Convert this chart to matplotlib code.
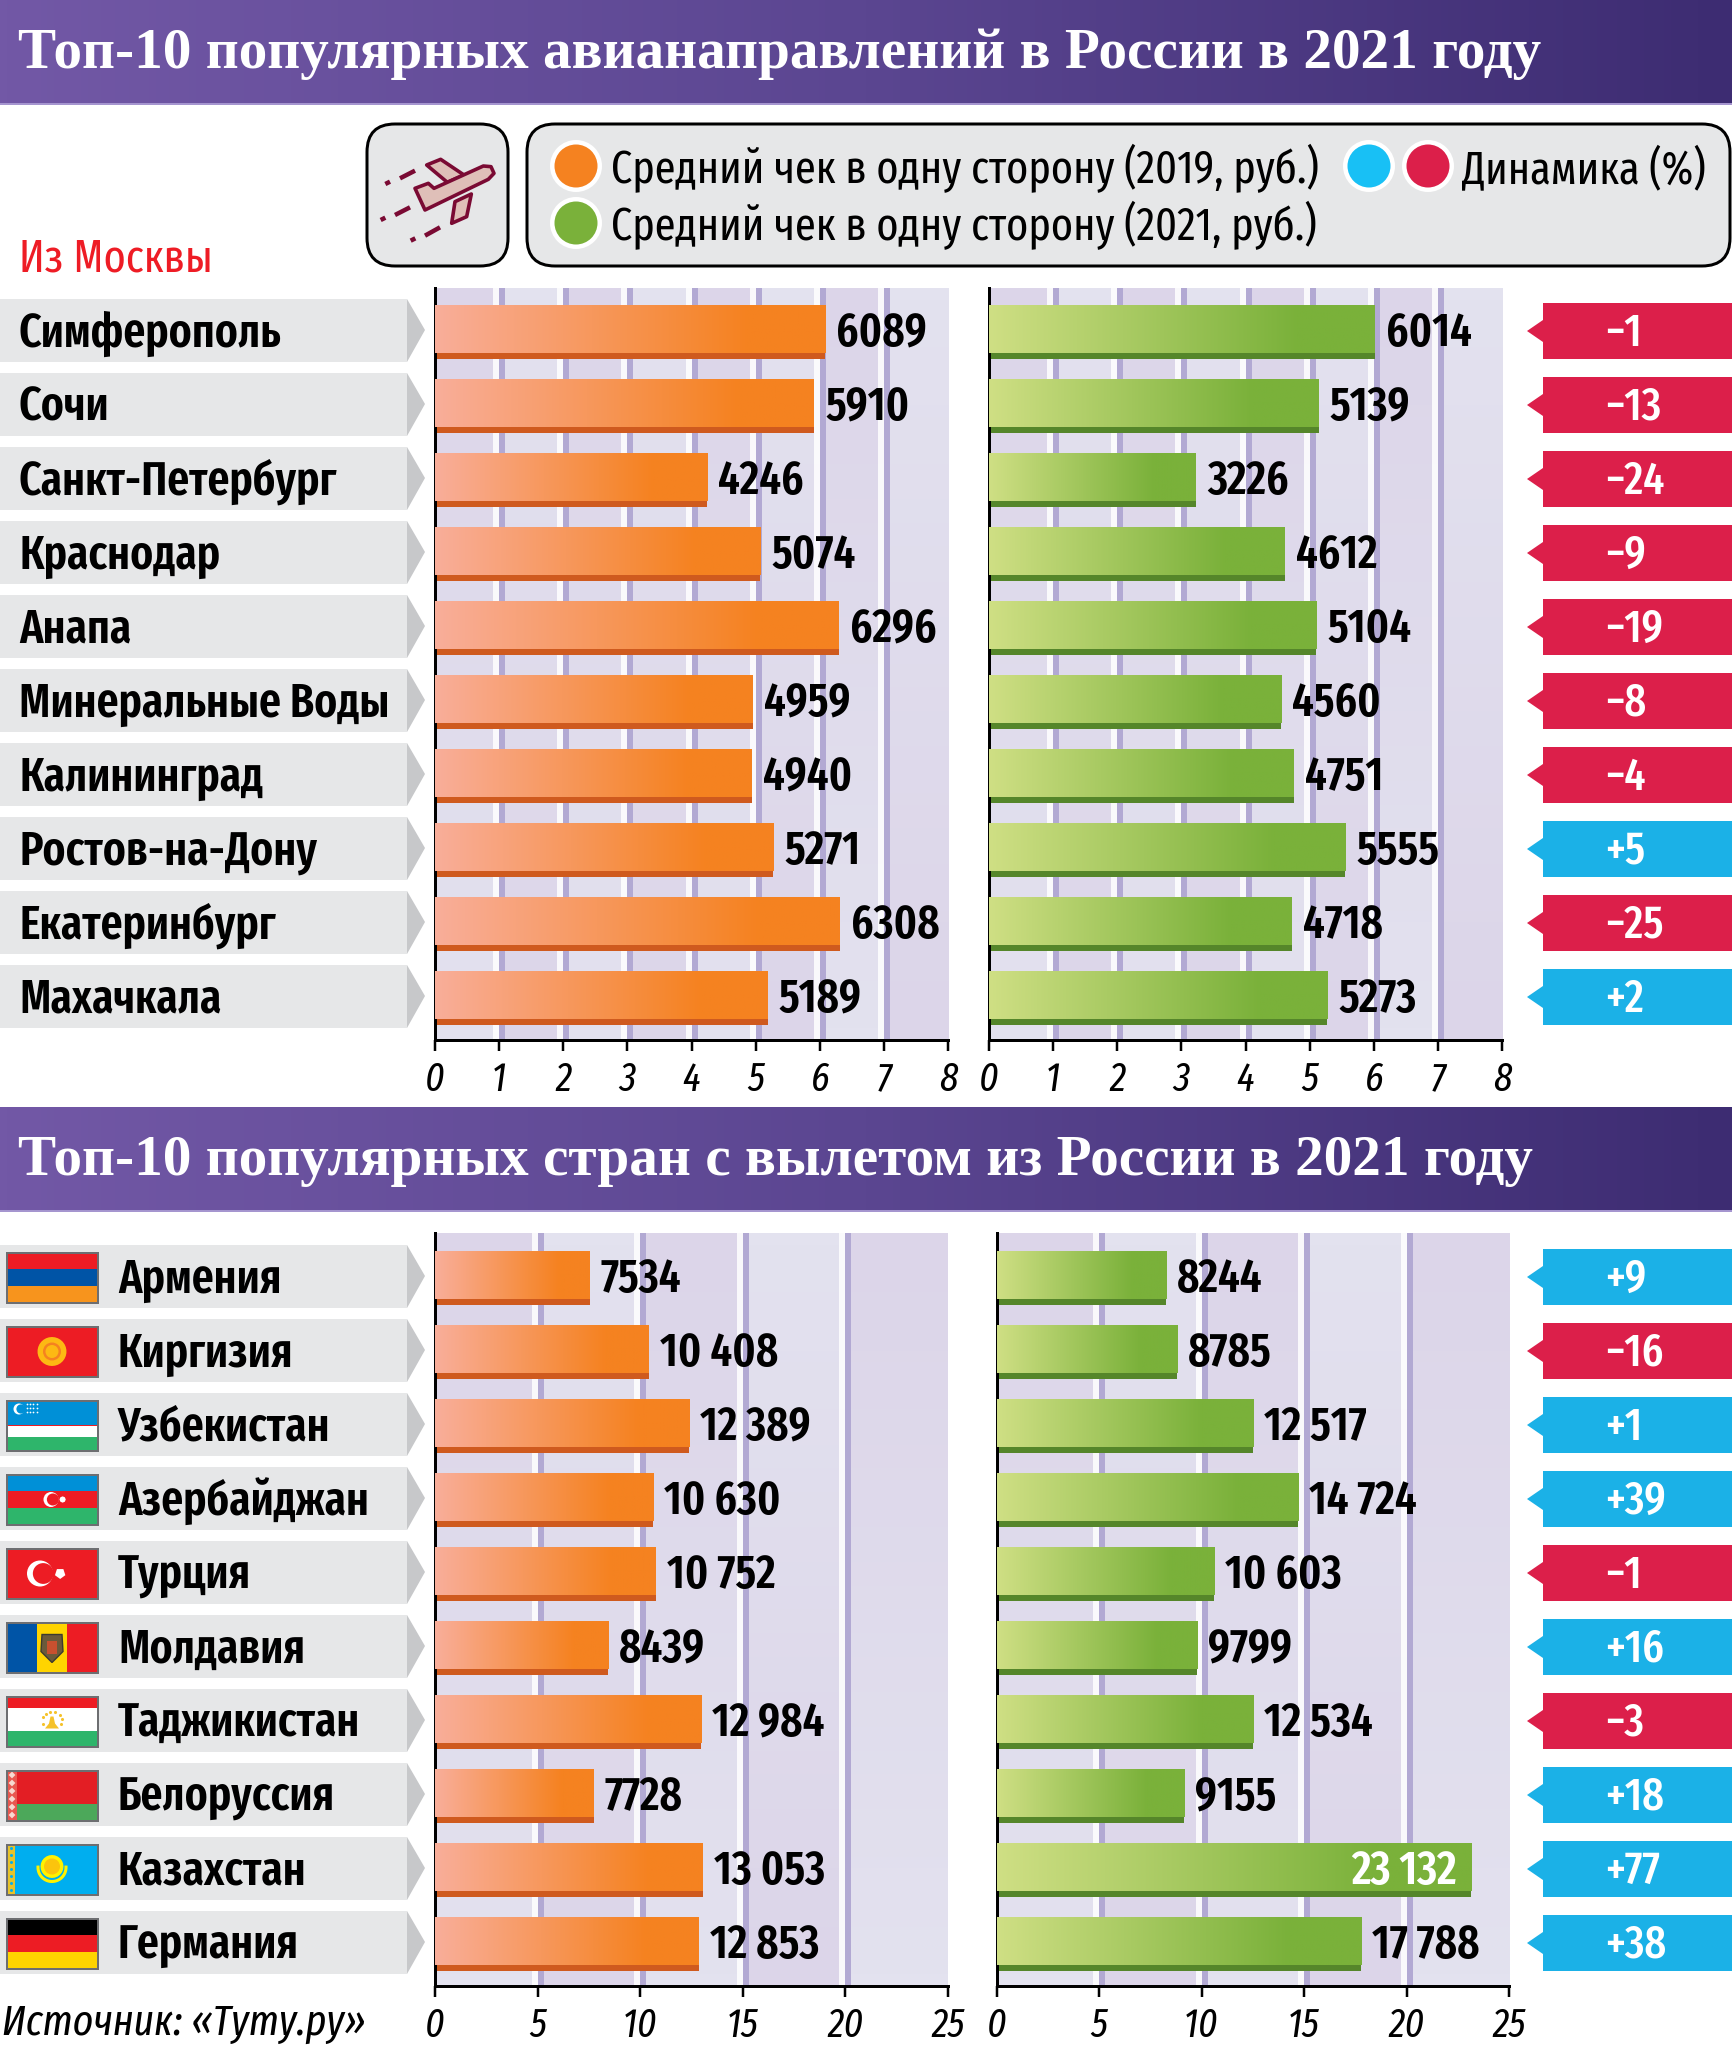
import numpy as np
import matplotlib
matplotlib.use('Agg')
import matplotlib.pyplot as plt
from matplotlib.colors import LinearSegmentedColormap
from matplotlib.patches import Rectangle, Polygon, Circle, FancyBboxPatch, RegularPolygon

# Data
cities = ['Симферополь', 'Сочи', 'Санкт-Петербург', 'Краснодар', 'Анапа',
          'Минеральные Воды', 'Калининград', 'Ростов-на-Дону', 'Екатеринбург', 'Махачкала']
city_2019 = [6089, 5910, 4246, 5074, 6296, 4959, 4940, 5271, 6308, 5189]
city_2021 = [6014, 5139, 3226, 4612, 5104, 4560, 4751, 5555, 4718, 5273]
city_change = [-1, -13, -24, -9, -19, -8, -4, 5, -25, 2]
city_ticks = [0, 1, 2, 3, 4, 5, 6, 7, 8]

countries = ['Армения', 'Киргизия', 'Узбекистан', 'Азербайджан', 'Турция',
             'Молдавия', 'Таджикистан', 'Белоруссия', 'Казахстан', 'Германия']
country_2019 = [7534, 10408, 12389, 10630, 10752, 8439, 12984, 7728, 13053, 12853]
country_2021 = [8244, 8785, 12517, 14724, 10603, 9799, 12534, 9155, 23132, 17788]
country_change = [9, -16, 1, 39, -1, 16, -3, 18, 77, 38]
country_ticks = [0, 5, 10, 15, 20, 25]

title_top = 'Топ-10 популярных авианаправлений в России в 2021 году'
title_bottom = 'Топ-10 популярных стран с вылетом из России в 2021 году'
legend_2019 = 'Средний чек в одну сторону (2019, руб.)'
legend_2021 = 'Средний чек в одну сторону (2021, руб.)'
legend_change = 'Динамика (%)'
source = 'Источник: «Туту.ру»'

W, H = 1732, 2047
# Narrow face is closest to the original; Roboto is the fallback if it is absent
NARROW = ['Fira Sans Extra Condensed', 'Roboto', 'DejaVu Sans']
SERIF = ['Liberation Serif', 'DejaVu Serif']
ORANGE, GREEN, BLUE, RED = '#f58220', '#7ab13a', '#1bb1e7', '#dc1f4a'
GREY, GREY_D = '#e6e7e8', '#c7c8ca'
PLANE = '#7a0a33'
px = 72 / 100  # pixels to points

plt.rcParams['font.family'] = NARROW
fig = plt.figure(figsize=(W / 100, H / 100), dpi=100, facecolor='white')

# Page layer in pixel coordinates
bg = fig.add_axes([0, 0, 1, 1])
bg.set_xlim(0, W)
bg.set_ylim(H, 0)
bg.axis('off')


def header(y0, y1, text):
    grad = np.linspace(0, 1, 256).reshape(1, -1)
    cmap = LinearSegmentedColormap.from_list('h', ['#7258a6', '#5b4691', '#3d2c72'])
    bg.imshow(grad, cmap=cmap, extent=(0, W, y1, y0), aspect='auto', zorder=1)
    bg.add_patch(Rectangle((0, y1 - 2), W, 2, color='#a595cf', lw=0, zorder=2))
    bg.text(18, y0 + 68, text, color='white', family=SERIF, fontsize=41.2,
            fontweight='bold', va='baseline', ha='left', zorder=3)


header(0, 105, title_top)
header(1107, 1212, title_bottom)
bg.set_xlim(0, W)
bg.set_ylim(H, 0)

# Legend
for x0, x1 in [(367, 508), (527, 1730)]:
    bg.add_patch(FancyBboxPatch((x0 + 28, 124 + 28), x1 - x0 - 56, 142 - 56,
                                boxstyle='round,pad=28,rounding_size=28',
                                fc=GREY, ec='black', lw=3 * px, zorder=2))
for x, y, c in [(576, 166, ORANGE), (576, 223, GREEN), (1369, 166, '#18c0f5'), (1428, 166, RED)]:
    bg.add_patch(Circle((x, y), 26, fc='white', ec='none', zorder=3))
    bg.add_patch(Circle((x, y), 21.5, fc=c, ec='none', zorder=4))
bg.text(611, 183, legend_2019, fontsize=33, va='baseline', zorder=4)
bg.text(611, 240, legend_2021, fontsize=33, va='baseline', zorder=4)
bg.text(1462, 183, legend_change, fontsize=33, va='baseline', zorder=4)
bg.text(19, 272, 'Из Москвы', color='#ee1c25', fontsize=33, va='baseline', zorder=4)

# Plane icon
ox, oy = 360, 120


def pl(points):
    return [(ox + a / 3, oy + b / 3) for a, b in points]


for pts in ([(200, 135), (242, 118), (312, 165), (262, 187)],
            [(285, 245), (334, 222), (320, 290), (275, 310)],
            [(165, 205), (205, 190), (222, 205), (370, 138), (393, 140),
             (402, 160), (385, 178), (195, 270)]):
    bg.add_patch(Polygon(pl(pts), closed=True, fc='#dfbfb8', ec=PLANE, lw=3.6 * px,
                         joinstyle='round', zorder=3))
for a, b in [((120, 175), (165, 152)), ((105, 285), (150, 262)), ((195, 347), (240, 322)),
             ((76, 192), (90, 185)), ((62, 300), (76, 293)), ((152, 362), (166, 355))]:
    (xa, ya), (xb, yb) = pl([a, b])
    bg.plot([xa, xb], [ya, yb], color=PLANE, lw=4.5 * px, solid_capstyle='butt', zorder=3)


def flag(i, name, y):
    x0, x1, y0, y1 = 7, 97, y - 26, y + 23
    w, h = x1 - x0, y1 - y0
    R, B, O, G, LB = '#ed1c24', '#0054a6', '#f7941d', '#2eb56b', '#0090d7'
    stripes = {'Армения': [(R, 1), (B, 1), (O, 1)],
               'Киргизия': [(R, 1)],
               'Узбекистан': [(LB, 30), (R, 1), ('white', 14), (R, 1), (G, 16)],
               'Азербайджан': [(LB, 1), (R, 1), (G, 1)],
               'Турция': [(R, 1)],
               'Молдавия': [(R, 1)],
               'Таджикистан': [(R, 2), ('white', 4), (G, 2.6)],
               'Белоруссия': [('#e31e24', 2), ('#4ca85a', 1)],
               'Казахстан': [('#00aeef', 1)],
               'Германия': [('black', 1), (R, 1), ('#ffd400', 1)]}[name]
    total = sum(s[1] for s in stripes)
    yy = y0
    for c, part in stripes:
        hh = h * part / total
        bg.add_patch(Rectangle((x0, yy), w, hh, fc=c, ec='none', zorder=3))
        yy += hh
    cx, cy = (x0 + x1) / 2, (y0 + y1) / 2
    if name == 'Молдавия':
        bg.add_patch(Rectangle((x0, y0), w / 3, h, fc=B, ec='none', zorder=3))
        bg.add_patch(Rectangle((x0 + w / 3, y0), w / 3, h, fc='#ffd400', ec='none', zorder=3))
        bg.add_patch(Polygon([(cx - 10, cy - 13), (cx + 10, cy - 13), (cx + 11, cy + 4), (cx, cy + 15), (cx - 11, cy + 4)],
                             fc='#6b5a3a', ec='#3c3a30', lw=1, zorder=4))
        bg.add_patch(Rectangle((cx - 5, cy - 7), 10, 13, fc='#c8502f', ec='none', zorder=5))
    elif name == 'Киргизия':
        bg.add_patch(RegularPolygon((cx, cy), 30, radius=14.5, fc='#fdb913', ec='none', zorder=4))
        bg.add_patch(Circle((cx, cy), 9, fc='#f58220', ec='none', zorder=5))
        bg.add_patch(Circle((cx, cy), 6.5, fc='#fdb913', ec='none', zorder=6))
    elif name in ('Турция', 'Азербайджан'):
        r = 13 if name == 'Турция' else 7.5
        back = R
        sx = cx - 12 if name == 'Турция' else cx - 1
        bg.add_patch(Circle((sx, cy), r, fc='white', ec='none', zorder=4))
        bg.add_patch(Circle((sx + r * .25, cy), r * .8, fc=back, ec='none', zorder=5))
        bg.add_patch(RegularPolygon((sx + r * 1.55, cy), 5 if name == 'Турция' else 8, radius=r * .42,
                                    fc='white', ec='none', zorder=6))
    elif name == 'Узбекистан':
        bg.add_patch(Circle((x0 + 12, y0 + 8), 5.5, fc='white', ec='none', zorder=4))
        bg.add_patch(Circle((x0 + 14, y0 + 8), 4.6, fc=LB, ec='none', zorder=5))
        dx = [x0 + 20 + 3.2 * k for k in range(4)]
        bg.scatter(dx * 3, [y0 + 3] * 4 + [y0 + 7] * 4 + [y0 + 11] * 4, s=1.6, c='white', lw=0, zorder=5)
    elif name == 'Таджикистан':
        bg.add_patch(Polygon([(cx - 7, cy + 7), (cx + 7, cy + 7), (cx + 3, cy + 2), (cx + 1.5, cy - 5), (cx - 1.5, cy - 5), (cx - 3, cy + 2)],
                             fc='#f5c22b', ec='none', zorder=4))
        ang = np.deg2rad([200, 230, 260, 290, 320, 350, 20, 160])
        bg.scatter(cx + 10 * np.cos(ang), cy - 1 + 9 * np.sin(ang), s=5, c='#f5c22b', lw=0, zorder=4)
    elif name == 'Белоруссия':
        bg.add_patch(Rectangle((x0, y0), 10, h, fc='#e8574f', ec='none', zorder=4))
        for k in range(6):
            bg.add_patch(RegularPolygon((x0 + 5, y0 + 4 + k * 8), 4, radius=3.4, fc='#f6d9d0', ec='none', zorder=5))
    elif name == 'Казахстан':
        bg.add_patch(Rectangle((x0 + 1, y0), 7, h, fc='#e6c32a', ec='none', zorder=4))
        for k in range(7):
            bg.add_patch(Circle((x0 + 4.5, y0 + 3.5 + k * 7), 1.5, fc='#00aeef', ec='none', zorder=5))
        bg.add_patch(RegularPolygon((cx, cy - 3), 24, radius=11.5, fc='#fff200', ec='none', zorder=4))
        bg.add_patch(Circle((cx, cy - 3), 8, fc='#fbc40d', ec='none', zorder=5))
        bg.plot(cx + 14 * np.sin(np.linspace(-1.6, 1.6, 30)), cy + 14 * np.cos(np.linspace(-1.6, 1.6, 30)) - 2,
                color='#fff200', lw=2.2, zorder=4)
    bg.add_patch(Rectangle((x0 - .5, y0 - .5), w + 1, h + 1, fc='none', ec='#6d6e71', lw=2 * px, zorder=8))


def rows(names, changes, first, flags):
    for i, name in enumerate(names):
        y = first + i * 74
        bg.add_patch(Rectangle((0, y - 33), 407, 63, fc=GREY, ec='none', zorder=1))
        bg.add_patch(Polygon([(407, y - 33), (425, y - 2), (407, y + 30)], fc=GREY_D, ec='none', zorder=1))
        tx = 118 if flags else 19
        bg.text(tx, y + 14.5, name, fontsize=34, fontweight=600, va='baseline', zorder=4)
        if flags:
            flag(i, name, y + 1)
        c = BLUE if changes[i] > 0 else RED
        bg.add_patch(Polygon([(1527, y - 1), (1543, y - 12), (1543, y - 29), (W, y - 29), (W, y + 27),
                              (1543, y + 27), (1543, y + 10)], fc=c, ec='none', zorder=2))
        label = f'+{changes[i]}' if changes[i] > 0 else f'\u2212{-changes[i]}'
        bg.text(1605, y + 14, label, color='white', fontsize=33, fontweight=500, va='baseline', zorder=4)


rows(cities, city_change, 332, False)
rows(countries, country_change, 1278, True)

band_cmap = LinearSegmentedColormap.from_list('b', ['#dcd5e9', '#e3e2ef'])


def panel(x0, x1, y0, y1, first, values, ticks, light, full):
    ax = fig.add_axes([x0 / W, 1 - y1 / H, (x1 - x0) / W, (y1 - y0) / H])
    ax.patch.set_alpha(0)
    unit_x = (x1 - x0) / ticks[-1]
    ax_top = -(first - y0) / 74
    ax_bottom = (y1 - first) / 74
    grad_v = np.linspace(0, 1, 64).reshape(-1, 1)
    for k in range(len(ticks) - 1):
        g = grad_v if k % 2 == 0 else 1 - grad_v
        ax.imshow(g, cmap=band_cmap, vmin=0, vmax=1, aspect='auto', zorder=0,
                  extent=(ticks[k], ticks[k + 1], ax_bottom, ax_top))
    for t in ticks[1:-1]:
        ax.axvspan(t - 6 / unit_x, t, color='white', lw=0, alpha=.85, zorder=1)
        ax.axvspan(t, t + 6 / unit_x, color='#b2a9d3', lw=0, zorder=1)
    cmap = LinearSegmentedColormap.from_list('bar', [(0, light), (.8, full[0]), (1, full[0])])
    grad_h = np.linspace(0, 1, 256).reshape(1, -1)
    bar_h = 54 / 74
    strip = 5.5 / 74
    vals = np.array(values) / 1000
    bars = ax.barh(range(len(vals)), vals, height=bar_h, color=full[1], zorder=2)
    for i, v in enumerate(vals):
        im = ax.imshow(grad_h, cmap=cmap, aspect='auto', zorder=3,
                       extent=(0, v, i + bar_h / 2 - strip, i - bar_h / 2))
        im.set_clip_path(bars[i])
        raw = values[i]
        txt = f'{raw:,}'.replace(',', ' ') if raw >= 10000 else str(raw)
        if v > ticks[-1] * .9:
            ax.annotate(txt, (v, i), xytext=(-14 * px, -14 * px), textcoords='offset points',
                        ha='right', va='baseline', color='white', fontsize=33.5, fontweight=600, zorder=6)
        else:
            ax.annotate(txt, (v, i), xytext=(11 * px, -14 * px), textcoords='offset points',
                        ha='left', va='baseline', color='black', fontsize=33.5, fontweight=600,
                        annotation_clip=False, zorder=6)
    ax.set_xlim(ticks[0], ticks[-1])
    ax.set_ylim(ax_bottom, ax_top)
    ax.set_xticks(ticks)
    ax.set_xticklabels(ticks, fontsize=29, fontstyle='italic')
    ax.set_yticks([])
    ax.tick_params(axis='x', length=11 * px, width=2.5 * px, pad=6.5, color='black')
    for s in ('top', 'right'):
        ax.spines[s].set_visible(False)
    for s in ('left', 'bottom'):
        ax.spines[s].set_linewidth(3 * px)
    return ax


SALMON, LIME = '#f9ae9a', '#cfdf84'
panel(435, 948, 288, 1040, 332, city_2019, city_ticks, SALMON, (ORANGE, '#cf5a1e'))
panel(989, 1502, 288, 1040, 332, city_2021, city_ticks, LIME, (GREEN, '#55862a'))
panel(435, 948, 1233, 1986, 1278, country_2019, country_ticks, SALMON, (ORANGE, '#cf5a1e'))
panel(996.5, 1509, 1233, 1986, 1278, country_2021, country_ticks, LIME, (GREEN, '#55862a'))

bg.text(2, 2035, source, fontsize=31, fontstyle='italic', va='baseline', zorder=4)

fig.savefig('out.png', dpi=100)
